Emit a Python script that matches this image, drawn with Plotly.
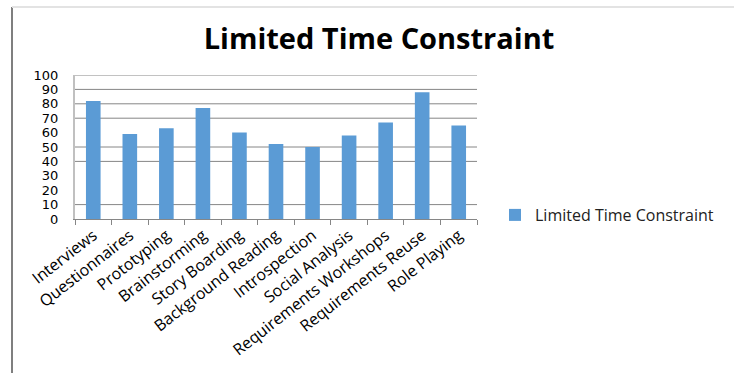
import plotly.graph_objects as go

# Elicitation techniques and their scores under a limited time constraint
techniques = [
    "Interviews", "Questionnaires", "Prototyping", "Brainstorming",
    "Story Boarding", "Background Reading", "Introspection",
    "Social Analysis", "Requirements Workshops", "Requirements Reuse",
    "Role Playing",
]
scores = [82, 59, 63, 77, 60, 52, 50, 58, 67, 88, 65]

series_name = "Limited Time Constraint"
y_ticks = [0, 10, 20, 30, 40, 50, 60, 70, 80, 90, 100]
grid_values = [10, 40, 50, 70, 80, 90, 100]

W, H = 734, 373
ML, MR, MT, MB = 75, 257, 75, 154
plot_w = W - ML - MR
plot_h = H - MT - MB

fig = go.Figure()
fig.add_trace(go.Bar(
    x=techniques, y=scores, name=series_name,
    marker=dict(color="#5b9bd5", line=dict(width=0)),
    showlegend=True,
))

shapes = []
for v in grid_values:
    shapes.append(dict(type="line", xref="paper", yref="y", x0=0, x1=1,
                       y0=v, y1=v, line=dict(color="#868686", width=1),
                       layer="below"))
# chart frame: dark left edge and light top edge
shapes.append(dict(type="line", xref="paper", yref="paper",
                   x0=(12 - ML) / plot_w, x1=(12 - ML) / plot_w,
                   y0=(H - MB - 7) / plot_h, y1=(H - MB - 373) / plot_h,
                   line=dict(color="#7f7f7f", width=2)))
shapes.append(dict(type="line", xref="paper", yref="paper",
                   x0=(12 - ML) / plot_w, x1=(W - ML) / plot_w,
                   y0=(H - MB - 7) / plot_h, y1=(H - MB - 7) / plot_h,
                   line=dict(color="#e3e3e3", width=2)))

fig.update_layout(
    width=W, height=H,
    margin=dict(l=ML, r=MR, t=MT, b=MB, pad=0),
    paper_bgcolor="white", plot_bgcolor="white",
    title=dict(text="<b>Limited Time Constraint</b>", x=379 / W, xanchor="center",
               xref="container", y=1 - 39 / H, yanchor="middle", yref="container",
               font=dict(family="Open Sans", size=29, color="black")),
    bargap=0.6,
    shapes=shapes,
    legend=dict(x=(495 - ML) / plot_w, xanchor="left", y=(H - MB - 215) / plot_h,
                yanchor="middle", font=dict(family="Open Sans", size=16, color="#222"),
                bgcolor="rgba(0,0,0,0)", itemwidth=30),
    xaxis=dict(
        tickangle=-38, tickfont=dict(family="Open Sans", size=16, color="black"),
        showline=True, linecolor="#868686", linewidth=1,
        ticks="outside", tickson="boundaries", ticklen=5, tickcolor="#868686",
        showgrid=False, zeroline=False,
    ),
    yaxis=dict(
        range=[0, 100], tickvals=y_ticks, showgrid=False, zeroline=False,
        showline=True, linecolor="#c0c0c0", linewidth=2,
        ticks="outside", ticklen=12, tickcolor="rgba(0,0,0,0)",
        tickfont=dict(family="DejaVu Sans", size=13, color="black"),
    ),
)

fig.write_html("out.html")
